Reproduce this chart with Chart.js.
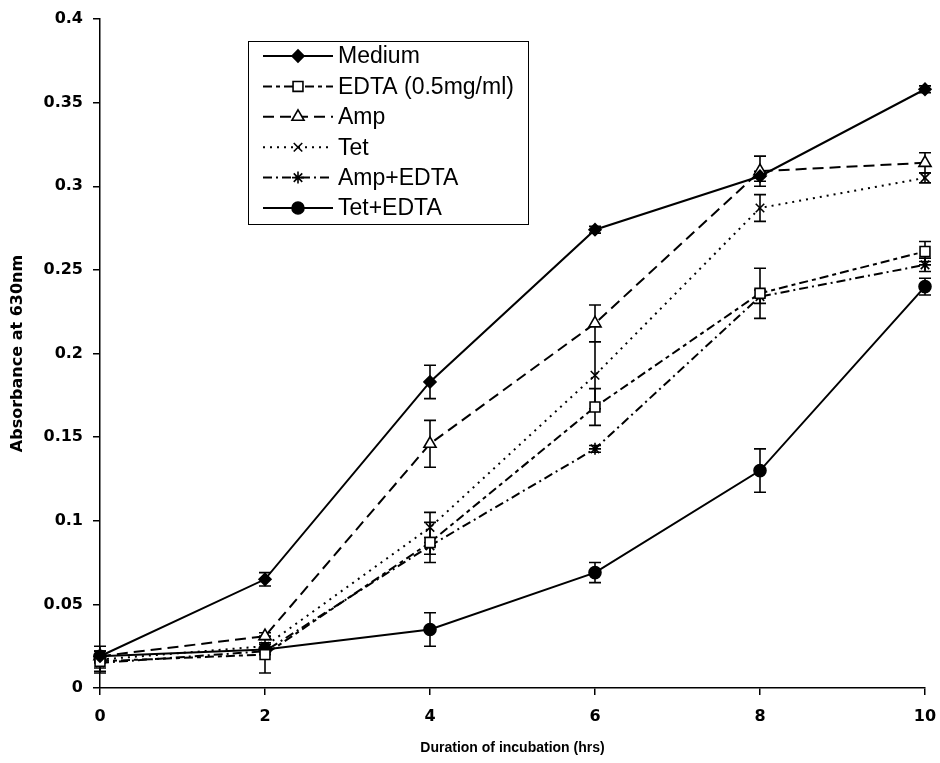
<!DOCTYPE html>
<html lang="en">
<head>
<meta charset="UTF-8">
<title>Absorbance vs incubation</title>
<script src="https://cdn.jsdelivr.net/npm/chart.js"></script>
<style>
  body { margin: 0; background: #fff; }
  #wrap { width: 940px; height: 763px; }
</style>
</head>
<body>
<div id="wrap"><canvas id="myChart" width="940" height="763"></canvas></div>
<script>
// hours of incubation
const hours = [0, 2, 4, 6, 8, 10];

// absorbance at 630nm
const medium     = [0.019, 0.065, 0.183, 0.274, 0.306, 0.358];
const mediumErr  = [0.003, 0.004, 0.010, 0.002, 0.003, 0.002];
const edta       = [0.016, 0.020, 0.087, 0.168, 0.236, 0.261];
const edtaErr    = [0.006, 0.011, 0.012, 0.011, 0.015, 0.006];
const amp        = [0.019, 0.031, 0.146, 0.218, 0.309, 0.314];
const ampErr     = [0.003, 0.002, 0.014, 0.011, 0.009, 0.006];
const tet        = [0.017, 0.025, 0.096, 0.187, 0.287, 0.305];
const tetErr     = [0.008, 0.002, 0.009, 0.020, 0.008, 0.003];
const ampEdta    = [0.015, 0.022, 0.085, 0.143, 0.234, 0.253];
const ampEdtaErr = [0.003, 0.002, 0.005, 0.002, 0.004, 0.004];
const tetEdta    = [0.019, 0.023, 0.035, 0.069, 0.130, 0.240];
const tetEdtaErr = [0.003, 0.003, 0.010, 0.006, 0.013, 0.005];

const labels = ['Medium', 'EDTA (0.5mg/ml)', 'Amp', 'Tet', 'Amp+EDTA', 'Tet+EDTA'];

const tickFont = { family: '"DejaVu Sans", sans-serif', size: 16, weight: 'bold' };

function pts(ys) {
    return ys.map((y, i) => ({ x: hours[i], y: y }));
}

function series(label, ys, errs, dash, style, fill, radius) {
    return {
        label: label,
        data: pts(ys),
        errors: errs,
        borderColor: '#000',
        borderWidth: 2,
        borderDash: dash,
        pointStyle: style,
        pointRadius: radius,
        pointBackgroundColor: fill,
        pointBorderColor: '#000',
        pointBorderWidth: 1.6,
        tension: 0,
        fill: false,
        clip: false
    };
}

// error bars with caps, drawn through the scales
const errorBars = {
    id: 'errorBars',
    beforeDatasetsDraw(chart) {
        const ctx = chart.ctx;
        const xs = chart.scales.x, ys = chart.scales.y;
        ctx.save();
        ctx.strokeStyle = '#000';
        ctx.lineWidth = 1.6;
        ctx.setLineDash([]);
        chart.data.datasets.forEach(ds => {
            ds.data.forEach((p, i) => {
                const e = ds.errors[i];
                const px = xs.getPixelForValue(p.x);
                const top = ys.getPixelForValue(p.y + e);
                const bot = ys.getPixelForValue(Math.max(0, p.y - e));
                ctx.beginPath();
                ctx.moveTo(px, top); ctx.lineTo(px, bot);
                ctx.moveTo(px - 6, top); ctx.lineTo(px + 6, top);
                ctx.moveTo(px - 6, bot); ctx.lineTo(px + 6, bot);
                ctx.stroke();
            });
        });
        ctx.restore();
    }
};

// boxed legend with line samples, inside the plot
const boxLegend = {
    id: 'boxLegend',
    afterDraw(chart) {
        const ctx = chart.ctx;
        const left = 248, top = 41, w = 280, h = 183;
        ctx.save();
        ctx.fillStyle = '#fff';
        ctx.fillRect(left, top, w, h);
        ctx.strokeStyle = '#000';
        ctx.lineWidth = 1;
        ctx.strokeRect(left + 0.5, top + 0.5, w, h);
        ctx.font = '23px "Liberation Sans", Arial, sans-serif';
        ctx.textBaseline = 'middle';
        chart.data.datasets.forEach((ds, i) => {
            const y = 56 + i * 30.4;
            ctx.strokeStyle = '#000';
            ctx.lineWidth = 2;
            ctx.setLineDash(ds.borderDash);
            ctx.beginPath();
            ctx.moveTo(263, y); ctx.lineTo(333, y);
            ctx.stroke();
            ctx.setLineDash([]);
            ctx.fillStyle = ds.pointBackgroundColor;
            ctx.lineWidth = 1.6;
            Chart.helpers.drawPoint(ctx, {
                pointStyle: ds.pointStyle,
                radius: ds.pointRadius,
                rotation: 0,
                borderWidth: 1.6
            }, 298, y);
            ctx.fillStyle = '#000';
            ctx.fillText(ds.label, 338, y + 1);
        });
        ctx.restore();
    }
};

const ctx = document.getElementById('myChart').getContext('2d');
const myChart = new Chart(ctx, {
    type: 'line',
    data: {
        datasets: [
            series(labels[0], medium, mediumErr, [], 'rectRot', '#000', 6),
            series(labels[1], edta, edtaErr, [9, 4, 4, 4], 'rect', '#fff', 7),
            series(labels[2], amp, ampErr, [11, 6], 'triangle', '#fff', 7),
            series(labels[3], tet, tetErr, [2, 5], 'crossRot', '#fff', 6),
            series(labels[4], ampEdta, ampEdtaErr, [9, 4, 2, 4], 'star', '#fff', 6),
            series(labels[5], tetEdta, tetEdtaErr, [], 'circle', '#000', 6)
        ]
    },
    options: {
        responsive: false,
        animation: false,
        layout: { padding: { top: 19, right: 15, left: 0, bottom: 0 } },
        plugins: {
            legend: { display: false },
            tooltip: { enabled: false }
        },
        scales: {
            x: {
                type: 'linear',
                min: 0,
                max: 10,
                afterFit(scale) {
                    scale.height = 75;
                    scale.paddingLeft = 0;
                    scale.paddingRight = 0;
                },
                border: { color: '#000', width: 1.5 },
                grid: { drawOnChartArea: false, color: '#000', tickLength: 7, lineWidth: 1.5 },
                ticks: {
                    stepSize: 2,
                    color: '#000',
                    padding: 12,
                    font: tickFont
                },
                title: {
                    display: true,
                    text: 'Duration of incubation (hrs)',
                    color: '#000',
                    padding: { top: 0, bottom: 6 },
                    font: { family: '"Liberation Sans", Arial, sans-serif', size: 14, weight: 'bold' }
                }
            },
            y: {
                min: 0,
                max: 0.4,
                afterFit(scale) {
                    scale.width = 100;
                    scale.paddingTop = 0;
                    scale.paddingBottom = 0;
                },
                border: { color: '#000', width: 1.5 },
                grid: { drawOnChartArea: false, color: '#000', tickLength: 7, lineWidth: 1.5 },
                ticks: {
                    stepSize: 0.05,
                    color: '#000',
                    padding: 10,
                    callback: v => String(Number(v.toFixed(2))),
                    font: tickFont
                },
                title: {
                    display: true,
                    text: 'Absorbance at 630nm',
                    color: '#000',
                    padding: { top: 8, bottom: 0 },
                    font: { family: '"DejaVu Sans", sans-serif', size: 16, weight: 'bold' }
                }
            }
        }
    },
    plugins: [errorBars, boxLegend]
});
</script>
</body>
</html>
